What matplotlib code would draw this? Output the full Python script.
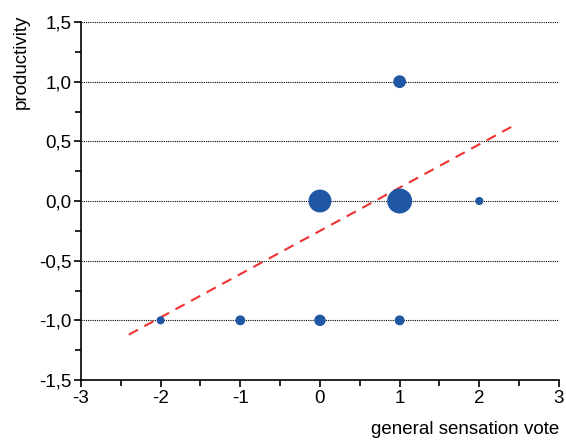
import numpy as np
import matplotlib.pyplot as plt
from matplotlib.ticker import MultipleLocator, FuncFormatter

plt.rcParams['font.family'] = ['Liberation Sans', 'DejaVu Sans']

# bubble data: general sensation vote vs productivity, weight ~ number of votes
gsv = [1, 0, 1, 2, -2, -1, 0, 1]
prod = [1, 0, 0, 0, -1, -1, -1, -1]
weight = [2.5, 8, 9.5, 1, 1, 1.5, 2, 1.5]

# fitted trend line
fit_slope = 0.3625
fit_icpt = -0.25
fit_x = [-2.4, 2.4]

fig = plt.figure(figsize=(5.66, 4.41), dpi=100)
ax = fig.add_axes([0.1431, 0.1383, 0.8445, 0.8118])

ax.set_xlim(-3, 3)
ax.set_ylim(-1.5, 1.5)
ax.yaxis.grid(True, linestyle=(0, (1, 1)), color='black', linewidth=0.8)
ax.set_axisbelow(True)

fx = np.array(fit_x)
ax.plot(fx, fit_slope * fx + fit_icpt, color='#ee3333', linestyle=(0, (5, 3.5)),
        linewidth=1.5, zorder=3)

ax.scatter(gsv, prod, s=np.array(weight) * 34, color='#1f57a4', edgecolors='none', zorder=4)

for side in ['top', 'right']:
    ax.spines[side].set_visible(False)
for side in ['left', 'bottom']:
    ax.spines[side].set_linewidth(1.2)

ax.xaxis.set_major_locator(MultipleLocator(1))
ax.xaxis.set_minor_locator(MultipleLocator(0.5))
ax.yaxis.set_major_locator(MultipleLocator(0.5))
ax.yaxis.set_minor_locator(MultipleLocator(0.25))
ax.yaxis.set_major_formatter(FuncFormatter(lambda v, p: f'{v:.1f}'.replace('.', ',').replace('-0,0', '0,0')))
ax.xaxis.set_major_formatter(FuncFormatter(lambda v, p: f'{v:.0f}'))
ax.tick_params(which='major', direction='out', length=5, width=1.2, labelsize=13.5, pad=2)
ax.tick_params(which='minor', direction='out', length=4, width=1.2)

fig.text(21 / 566, 1 - 15 / 441, 'productivity', rotation=90, ha='center', va='top', fontsize=13.5)
fig.text(559 / 566, 1 - 421 / 441, 'general sensation vote', ha='right', va='top', fontsize=13.5)

fig.savefig('out.png', dpi=100)
